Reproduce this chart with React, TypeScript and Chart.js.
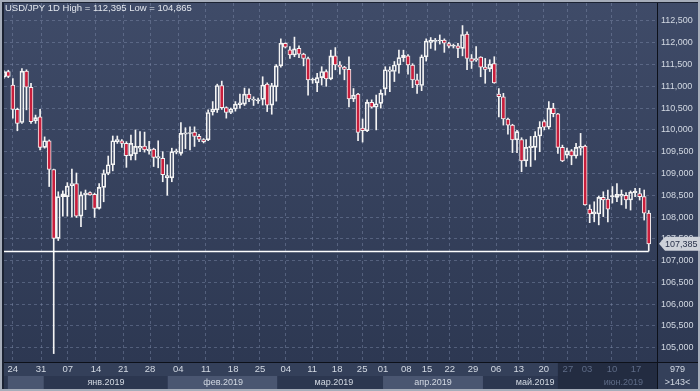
import React, { useEffect, useRef } from 'react';
import { Chart, registerables } from 'chart.js';

Chart.register(...registerables);

// ---- data (USD/JPY daily candles, left to right) ----
const opens = [
  111.21, 111.34, 111.03, 110.47, 110.17, 111.35, 110.98, 110.21, 110.30, 109.60,
  109.75, 109.09, 107.51, 108.47, 108.47, 108.72, 108.77, 108.02, 108.51, 108.56,
  108.52, 108.20, 108.68, 109.00, 109.20, 109.73, 109.75, 109.69, 109.41, 109.45,
  109.58, 109.63, 109.52, 109.56, 109.35, 109.35, 108.90, 108.90, 109.49, 109.46,
  109.90, 109.92, 109.95, 109.85, 109.78, 109.77, 110.41, 110.46, 111.02, 110.51,
  110.40, 110.48, 110.58, 110.59, 110.82, 110.68, 110.67, 110.70, 111.05, 110.57,
  110.99, 111.47, 111.99, 111.84, 111.72, 111.87, 111.74, 111.64, 111.14, 111.08,
  111.20, 111.34, 111.17, 111.70, 111.49, 111.44, 111.39, 110.71, 110.82, 110.04,
  109.98, 110.63, 110.52, 110.61, 110.94, 111.34, 111.34, 111.49, 111.66, 111.70,
  111.49, 111.15, 111.02, 111.68, 112.01, 112.03, 112.04, 112.06, 111.98, 111.92,
  111.93, 111.87, 112.20, 111.64, 111.60, 111.67, 111.44, 111.40, 111.52, 110.82,
  110.76, 110.25, 110.11, 109.77, 109.78, 109.29, 109.59, 109.60, 109.86, 110.19,
  110.06, 110.50, 110.37, 109.60, 109.42, 109.52, 109.40, 109.58, 109.63, 108.18,
  108.07, 108.07, 108.45, 108.41, 108.47, 108.45, 108.48, 108.50, 108.39, 108.56,
  108.54, 108.47, 108.09,
];
const highs = [
  111.36, 111.37, 111.18, 110.50, 111.41, 111.38, 111.07, 110.34, 110.47, 109.84,
  109.77, 109.10, 108.58, 108.60, 108.79, 109.10, 109.01, 108.58, 108.62, 108.58,
  108.55, 108.77, 109.08, 109.40, 109.86, 109.86, 109.78, 109.73, 109.88, 110.00,
  109.96, 109.95, 109.74, 109.58, 109.75, 109.50, 109.20, 109.58, 109.56, 110.17,
  110.05, 110.07, 110.07, 109.90, 109.80, 110.46, 110.65, 111.05, 111.12, 110.53,
  110.50, 110.65, 110.82, 110.96, 110.94, 110.76, 110.73, 111.22, 111.08, 111.07,
  111.50, 112.09, 112.00, 111.91, 112.13, 111.93, 111.76, 111.67, 111.19, 111.30,
  111.45, 111.38, 111.83, 111.89, 111.57, 111.46, 111.68, 110.95, 110.84, 110.25,
  110.69, 110.69, 110.80, 110.92, 111.45, 111.45, 111.57, 111.83, 111.83, 111.73,
  111.52, 111.28, 111.72, 112.09, 112.12, 112.10, 112.18, 112.09, 112.01, 111.97,
  111.99, 112.395, 112.25, 111.73, 111.91, 111.68, 111.64, 111.61, 111.68, 110.95,
  110.84, 110.27, 110.13, 109.99, 109.82, 109.78, 109.85, 109.96, 110.19, 110.23,
  110.65, 110.61, 110.38, 109.65, 109.58, 109.55, 109.69, 109.92, 109.65, 108.28,
  108.35, 108.48, 108.58, 108.62, 108.70, 108.77, 108.62, 108.56, 108.60, 108.66,
  108.66, 108.62, 108.15,
];
const lows = [
  111.18, 111.20, 110.27, 109.98, 110.15, 110.46, 110.15, 110.15, 109.54, 109.58,
  108.70, 104.865, 107.46, 108.02, 108.02, 108.00, 107.99, 107.78, 108.17, 108.50,
  107.99, 108.18, 108.35, 108.97, 109.06, 109.69, 109.60, 109.14, 109.31, 109.31,
  109.50, 109.49, 109.44, 109.16, 109.13, 108.81, 108.50, 108.81, 109.45, 109.42,
  109.57, 109.54, 109.62, 109.73, 109.70, 109.75, 110.34, 110.40, 110.47, 110.27,
  110.37, 110.43, 110.50, 110.56, 110.65, 110.56, 110.61, 110.57, 110.42, 110.36,
  110.66, 111.44, 111.88, 111.64, 111.68, 111.66, 111.47, 110.80, 111.07, 110.88,
  111.03, 111.00, 111.15, 111.38, 111.28, 111.15, 110.53, 110.65, 109.75, 109.72,
  109.96, 110.50, 110.00, 110.50, 110.80, 110.88, 111.11, 111.30, 111.57, 111.28,
  110.97, 110.84, 110.90, 111.58, 111.87, 111.83, 111.97, 111.78, 111.88, 111.88,
  111.66, 111.70, 111.38, 111.41, 111.57, 111.22, 111.07, 111.34, 111.07, 110.30,
  110.11, 109.90, 109.48, 109.48, 109.04, 109.16, 109.16, 109.31, 109.50, 110.00,
  110.02, 110.30, 109.46, 109.27, 109.35, 109.20, 109.35, 109.42, 108.27, 107.87,
  107.89, 107.82, 108.01, 107.89, 108.32, 108.35, 108.28, 108.20, 108.16, 108.47,
  108.39, 107.93, 107.22,
];
const closes = [
  111.34, 111.23, 110.47, 110.15, 111.35, 110.98, 110.19, 110.28, 109.60, 109.75,
  109.09, 107.51, 108.47, 108.53, 108.71, 108.77, 108.02, 108.51, 108.55, 108.51,
  108.20, 108.68, 109.00, 109.20, 109.75, 109.78, 109.69, 109.41, 109.69, 109.62,
  109.62, 109.54, 109.56, 109.37, 109.39, 108.97, 108.95, 109.50, 109.52, 109.92,
  109.93, 109.94, 109.85, 109.78, 109.73, 110.40, 110.48, 111.02, 110.51, 110.40,
  110.48, 110.59, 110.62, 110.82, 110.71, 110.71, 110.69, 111.03, 110.57, 111.02,
  111.47, 111.99, 111.90, 111.72, 111.86, 111.74, 111.64, 111.15, 111.16, 111.20,
  111.34, 111.17, 111.70, 111.49, 111.44, 111.39, 110.71, 110.80, 109.94, 109.98,
  110.63, 110.52, 110.60, 110.84, 111.38, 111.38, 111.49, 111.66, 111.72, 111.49,
  111.15, 111.03, 111.68, 112.04, 112.06, 112.06, 112.06, 111.99, 111.92, 111.94,
  111.87, 112.19, 111.64, 111.57, 111.64, 111.44, 111.39, 111.51, 111.08, 110.76,
  110.25, 110.11, 109.77, 109.96, 109.29, 109.60, 109.63, 109.86, 110.06, 110.06,
  110.50, 110.37, 109.60, 109.29, 109.52, 109.40, 109.60, 109.62, 108.28, 108.07,
  108.12, 108.45, 108.39, 108.18, 108.49, 108.52, 108.52, 108.39, 108.57, 108.59,
  108.47, 108.09, 107.385,
];

const yTickValues = [105, 105.5, 106, 106.5, 107, 107.5, 108, 108.5, 109, 109.5, 110, 110.5, 111, 111.5, 112, 112.5];
const dayTickPos = [2.0, 8.2, 14.1, 20.3, 26.3, 32.2, 38.4, 44.5, 50.5, 56.4, 62.1, 67.9, 73.4, 78.9, 83.5, 88.6, 93.2, 98.2, 103.3, 108.4, 113.4, 118.9, 124.2, 128.4, 133.9, 139.2];
const dayTickLabels = ['24', '31', '07', '14', '21', '28', '04', '11', '18', '25', '04', '11', '18', '25', '01', '08', '15', '22', '29', '06', '13', '20', '27', '03', '10', '17'];
const monthPos = [22.5, 48.3, 72.7, 94.5, 117, 136.4];
const monthLabels = ['янв.2019', 'фев.2019', 'мар.2019', 'апр.2019', 'май.2019', 'июн.2019'];
const lightBands = [[0.9, 8.8], [36.1, 60.2], [83.5, 105.5]];
const dimFrom = 122;
const dimTickFrom = 22;
const lastPrice = 107.385;
const lineLevel = 107.23;
const titleText = 'USD/JPY 1D High = 112,395 Low = 104,865';
const cornerTop = '979';
const cornerBottom = '>143<';

const X_MIN = 0.053;
const X_MAX = 143.82;
const Y_MIN = 104.672;
const Y_MAX = 112.913;

const FONT = 'Liberation Sans, Arial, sans-serif';
const RED = '#c81e3c';
const TXT = '#d3d9e3';
const DIM = '#5e6b86';

const fmt = (v: number) => v.toFixed(3).replace('.', ',');

const zeroPad = (s: any) => {
  s.paddingLeft = 0;
  s.paddingRight = 0;
  s.paddingTop = 0;
  s.paddingBottom = 0;
};

const chromePlugin = {
  id: 'chrome',
  beforeDraw(chart: any) {
    const { ctx, chartArea: a, scales } = chart;
    const W = chart.width;
    const H = chart.height;
    const px = (v: number) => scales.x.getPixelForValue(v);
    ctx.save();
    ctx.fillStyle = '#a6adba';
    ctx.fillRect(0, 0, W, H);
    ctx.fillStyle = '#1b2232';
    ctx.fillRect(2, 2, W - 4, H - 4);
    const g = ctx.createLinearGradient(0, a.top, 0, a.bottom);
    g.addColorStop(0, '#3f4b68');
    g.addColorStop(1, '#2d3852');
    ctx.fillStyle = g;
    ctx.fillRect(a.left, a.top, a.right - a.left, a.bottom - a.top);
    ctx.fillRect(a.right + 1, a.top, W - 2 - a.right - 1, a.bottom - a.top);
    const r1 = a.bottom + 1;
    const r2 = a.bottom + 14;
    ctx.fillStyle = '#34405a';
    ctx.fillRect(a.left, r1, a.right - a.left, H - 2 - r1);
    ctx.fillStyle = '#2c3750';
    ctx.fillRect(a.left, r2, a.right - a.left, H - 2 - r2);
    ctx.fillStyle = '#4a5671';
    lightBands.forEach(([s, e]) => {
      const x0 = Math.max(a.left, px(s));
      const x1 = Math.min(a.right, px(e));
      ctx.fillRect(x0, r2, x1 - x0, H - 2 - r2);
    });
    ctx.fillStyle = '#232c41';
    const xd = px(dimFrom);
    ctx.fillRect(xd, r1, a.right - xd, H - 2 - r1);
    ctx.fillStyle = '#34405a';
    ctx.fillRect(a.right + 1, r1, W - 2 - a.right - 1, H - 2 - r1);
    ctx.restore();
  },
  afterDatasetsDraw(chart: any) {
    const { ctx, chartArea: a, scales } = chart;
    const y = Math.round(scales.y.getPixelForValue(lineLevel)) + 0.5;
    const xEnd = scales.x.getPixelForValue(opens.length - 1);
    ctx.save();
    ctx.strokeStyle = '#ffffff';
    ctx.lineWidth = 1.5;
    ctx.beginPath();
    ctx.moveTo(a.left, y);
    ctx.lineTo(xEnd, y);
    ctx.stroke();
    ctx.restore();
  },
  afterDraw(chart: any) {
    const { ctx, chartArea: a, scales } = chart;
    const W = chart.width;
    const H = chart.height;
    ctx.save();
    ctx.strokeStyle = '#0d111a';
    ctx.lineWidth = 1;
    ctx.beginPath();
    ctx.moveTo(a.right + 0.5, a.top);
    ctx.lineTo(a.right + 0.5, H - 2);
    ctx.moveTo(a.left, a.bottom + 0.5);
    ctx.lineTo(W - 2, a.bottom + 0.5);
    ctx.stroke();
    ctx.font = `9.5px ${FONT}`;
    ctx.fillStyle = '#e3e7ee';
    ctx.textAlign = 'left';
    ctx.textBaseline = 'middle';
    ctx.fillText(titleText, 5, 8.5);
    const y = scales.y.getPixelForValue(lastPrice);
    ctx.fillStyle = '#cdd1d9';
    ctx.beginPath();
    ctx.moveTo(a.right + 2, y);
    ctx.lineTo(a.right + 8, y - 7);
    ctx.lineTo(W, y - 7);
    ctx.lineTo(W, y + 7);
    ctx.lineTo(a.right + 8, y + 7);
    ctx.closePath();
    ctx.fill();
    ctx.fillStyle = '#28314a';
    ctx.font = `9px ${FONT}`;
    ctx.fillText(fmt(lastPrice), a.right + 8, y + 0.5);
    ctx.fillStyle = TXT;
    ctx.textAlign = 'center';
    const cx = (a.right + W - 2) / 2;
    ctx.fillText(cornerTop, cx, a.bottom + 7.5);
    ctx.fillText(cornerBottom, cx, a.bottom + 20.5);
    ctx.restore();
  },
};

export default function App() {
  const ref = useRef<HTMLCanvasElement>(null);
  useEffect(() => {
    document.body.style.margin = '0';
    const idx = opens.map((_, i) => i);
    const bodies = idx.map((i) => ({ x: i, y: [opens[i], closes[i]] }));
    const upper = idx.map((i) => ({ x: i, y: [Math.max(opens[i], closes[i]), highs[i]] }));
    const lower = idx.map((i) => ({ x: i, y: [lows[i], Math.min(opens[i], closes[i])] }));
    const bodyFill = idx.map((i) => (closes[i] < opens[i] ? RED : 'rgba(0,0,0,0)'));

    const chart = new Chart(ref.current as HTMLCanvasElement, {
      type: 'bar',
      data: {
        datasets: [
          {
            data: bodies as any,
            backgroundColor: bodyFill,
            borderColor: '#f4f4f4',
            borderWidth: 1,
            borderSkipped: false,
            barThickness: 4,
            grouped: false,
            order: 1,
          } as any,
          {
            data: upper as any,
            backgroundColor: '#f4f4f4',
            borderWidth: 0,
            barThickness: 1,
            grouped: false,
            order: 2,
          } as any,
          {
            data: lower as any,
            backgroundColor: '#f4f4f4',
            borderWidth: 0,
            barThickness: 1,
            grouped: false,
            order: 2,
          } as any,
        ],
      },
      options: {
        responsive: false,
        animation: false,
        events: [],
        layout: { padding: { left: 4, top: 3, right: 2, bottom: 2 } },
        plugins: { legend: { display: false }, tooltip: { enabled: false } },
        scales: {
          x: {
            type: 'linear',
            position: 'bottom',
            offset: false,
            min: X_MIN,
            max: X_MAX,
            weight: 0,
            afterBuildTicks: (s: any) => {
              s.ticks = dayTickPos.map((v) => ({ value: v }));
            },
            afterFit: (s: any) => {
              s.height = 14;
              zeroPad(s);
            },
            grid: { color: 'rgba(128,143,172,0.45)', drawTicks: false, offset: false },
            border: { display: false, dash: [3, 3] },
            ticks: {
              autoSkip: false,
              maxRotation: 0,
              padding: 2,
              font: { family: FONT, size: 9.5 },
              color: (c: any) => (c.index >= dimTickFrom ? DIM : TXT),
              callback: (_v: any, i: number) => dayTickLabels[i],
            },
          },
          x2: {
            type: 'linear',
            position: 'bottom',
            offset: false,
            min: X_MIN,
            max: X_MAX,
            weight: 1,
            afterBuildTicks: (s: any) => {
              s.ticks = monthPos.map((v) => ({ value: v }));
            },
            afterFit: (s: any) => {
              s.height = 13;
              zeroPad(s);
            },
            grid: { display: false, drawTicks: false, offset: false },
            border: { display: false },
            ticks: {
              autoSkip: false,
              maxRotation: 0,
              padding: 1,
              font: { family: FONT, size: 9 },
              color: (c: any) => (c.index >= monthLabels.length - 1 ? DIM : TXT),
              callback: (_v: any, i: number) => monthLabels[i],
            },
          },
          y: {
            type: 'linear',
            position: 'right',
            min: Y_MIN,
            max: Y_MAX,
            afterBuildTicks: (s: any) => {
              s.ticks = yTickValues.map((v) => ({ value: v }));
            },
            afterFit: (s: any) => {
              s.width = 41;
              zeroPad(s);
            },
            grid: { color: 'rgba(128,143,172,0.45)', drawTicks: false },
            border: { display: false, dash: [3, 3] },
            ticks: {
              padding: 4,
              font: { family: FONT, size: 9 },
              color: TXT,
              callback: (v: any) => fmt(Number(v)),
            },
          },
        },
      } as any,
      plugins: [chromePlugin as any],
    });
    return () => chart.destroy();
  }, []);
  return (
    <div style={{ width: 700, height: 391 }}>
      <canvas ref={ref} width={700} height={391} style={{ display: 'block' }} />
    </div>
  );
}
